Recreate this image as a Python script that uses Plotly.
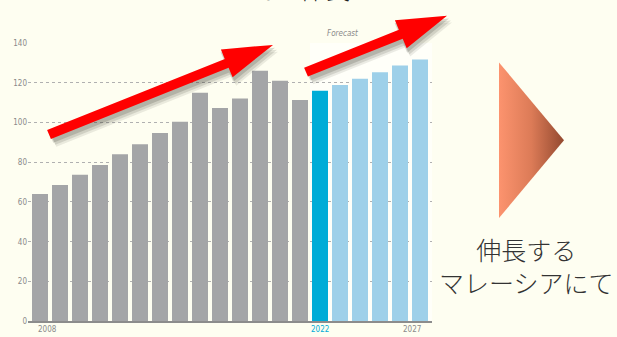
import plotly.graph_objects as go

W, H = 617, 337

# ---- data ----
years = list(range(2008, 2028))
values = [64, 68.5, 73.7, 78.6, 84, 89, 94.7, 100.3, 115, 107.3,
          112, 126, 121, 111.3, 116, 118.8, 122, 125.3, 128.6, 131.7]
current_year = 2022
y_ticks = [0, 20, 40, 60, 80, 100, 120, 140]
year_labels = [2008, 2022, 2027]
label_shift = [7, 0, -8]

C_HIST = "#a4a5a7"
C_CUR = "#00acd7"
C_FC = "#9ed0e9"
BG = "#fefef1"

colors = [C_HIST if y < current_year else (C_CUR if y == current_year else C_FC) for y in years]

fig = go.Figure()

fig.add_trace(go.Bar(x=years, y=values, marker=dict(color=colors, line=dict(width=0)),
                     width=0.8, hoverinfo="skip", showlegend=False))

# gradient triangle on full-page overlay axes (pixel coordinates)
fig.add_trace(go.Scatter(x=[499, 564, 499, 499], y=[60, 140, 220, 60],
                         xaxis="x2", yaxis="y2", mode="lines", fill="toself",
                         line=dict(width=0, color="rgba(0,0,0,0)"),
                         fillgradient=dict(type="horizontal",
                                           colorscale=[[0, "#fc936e"], [0.5, "#dc7b57"], [1, "#93492f"]]),
                         hoverinfo="skip", showlegend=False))


def arrow_path(tail, tip, shaft_w=10, head_len=50, head_w=31, dx=0, dy=0):
    import math
    x0, y0 = tail
    x1, y1 = tip
    L = math.hypot(x1 - x0, y1 - y0)
    ux, uy = (x1 - x0) / L, (y1 - y0) / L
    nx, ny = -uy, ux
    bx, by = x1 - ux * head_len, y1 - uy * head_len
    s, h = shaft_w / 2, head_w / 2
    pts = [(x0 + nx * s, y0 + ny * s), (bx + nx * s, by + ny * s), (bx + nx * h, by + ny * h),
           (x1, y1), (bx - nx * h, by - ny * h), (bx - nx * s, by - ny * s), (x0 - nx * s, y0 - ny * s)]
    return "M " + " L ".join(f"{px + dx:.1f},{py + dy:.1f}" for px, py in pts) + " Z"


arrows = [((49, 134), (273, 42)), ((306, 70), (447, 12))]
shapes = []
# forecast highlight region
shapes.append(dict(type="rect", xref="x", yref="y", x0=2021.5, x1=2027.6, y0=0, y1=140,
                   fillcolor="rgba(255,255,255,0.55)", line=dict(width=0), layer="below"))
for tail, tip in arrows:
    for (ox, oy, a) in [(5, 7, 0.10), (4, 5, 0.15), (2, 3, 0.2)]:
        shapes.append(dict(type="path", xref="x2", yref="y2",
                           path=arrow_path(tail, tip, shaft_w=12, head_len=52, head_w=33, dx=ox, dy=oy),
                           fillcolor=f"rgba(60,60,50,{a})", line=dict(width=0)))
    shapes.append(dict(type="path", xref="x2", yref="y2", path=arrow_path(tail, tip),
                       fillcolor="#ff0000", line=dict(width=0)))

COND = "DejaVu Sans Condensed, Liberation Sans Narrow, sans-serif"
ann = []
for yl, sh in zip(year_labels, label_shift):
    ann.append(dict(x=yl, y=0, xref="x", yref="y", text=str(yl), showarrow=False,
                    yanchor="top", yshift=-2, xshift=sh,
                    font=dict(size=8, color=C_CUR if yl == current_year else "#8a8a8a", family=COND)))
ann.append(dict(x=343, y=30, xref="x2", yref="y2", text="Forecast", showarrow=False,
                font=dict(size=8, color="#8a8a8a", style="italic", family=COND)))
ann.append(dict(x=526, y=269, xref="x2", yref="y2", text="伸長する<br>マレーシアにて", showarrow=False,
                align="center",
                font=dict(size=25, color="#333333", family="Noto Sans CJK JP", weight=300)))
ann.append(dict(x=263, y=1, xref="x2", yref="paper", yanchor="middle", yshift=16,
                text="アジアでの伸長", showarrow=False,
                font=dict(size=25, color="#222222", family="Noto Sans CJK JP", weight=300)))

fig.update_layout(
    width=W, height=H, margin=dict(l=0, r=0, t=0, b=0),
    paper_bgcolor=BG, plot_bgcolor="rgba(0,0,0,0)",
    bargap=0.2,
    xaxis=dict(domain=[28 / W, 432 / W], range=[2007.4, 2027.6], showgrid=False, zeroline=False,
               showline=True, linecolor="#8c8c8c", linewidth=2, showticklabels=False, ticks=""),
    yaxis=dict(domain=[11 / H, 297 / H], range=[0, 140], tickvals=y_ticks, showgrid=True,
               gridcolor="#b0b0b0", griddash="dot", gridwidth=1, zeroline=False, ticks="",
               tickfont=dict(size=8, color="#8a8a8a", family=COND)),
    xaxis2=dict(domain=[0, 1], range=[0, W], visible=False, anchor="y2", fixedrange=True),
    yaxis2=dict(domain=[0, 1], range=[H, 0], visible=False, anchor="x2", fixedrange=True),
    shapes=shapes, annotations=ann,
)

fig.write_html("out.html")
